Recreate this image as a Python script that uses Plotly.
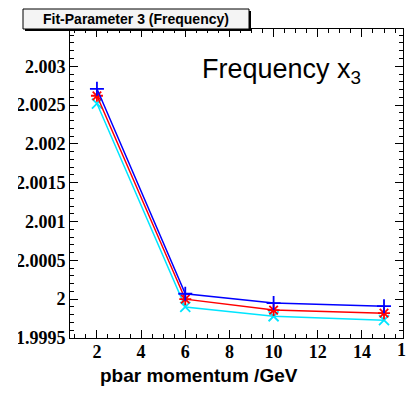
import plotly.graph_objects as go

# Fitted frequency parameter vs. antiproton beam momentum
momentum = [2, 6, 10, 15]
freq_blue = [2.00271, 2.00007, 1.99995, 1.99991]
freq_red = [2.00262, 2.00000, 1.99986, 1.99982]
freq_cyan = [2.00252, 1.99990, 1.99978, 1.99973]

y_tickvals = [1.9995, 2.0, 2.0005, 2.001, 2.0015, 2.002, 2.0025, 2.003, 2.0035]
y_ticktext = ["1.9995", "2", "2.0005", "2.001", "2.0015", "2.002", "2.0025", "2.003", "2.0035"]
x_tickvals = [2, 4, 6, 8, 10, 12, 14]
x_ticktext = ["2", "4", "6", "8", "10", "12", "14"]

W, H = 406, 395
L, R, T, B = 70, 403, 29, 338  # frame in pixels

def px(x):
    return (x - L) / (R - L)

def py(y):
    return (B - y) / (B - T)

serif_bold = dict(family="Times New Roman", size=18, color="black", weight="bold")

fig = go.Figure()
series = [
    (freq_cyan, "#00e5ff", "x-thin-open"),
    (freq_red, "#ff0000", "asterisk-open"),
    (freq_blue, "#0000ff", "cross-thin-open"),
]
for vals, col, sym in series:
    fig.add_trace(go.Scatter(
        x=momentum, y=vals, mode="lines+markers",
        line=dict(color=col, width=1.5),
        marker=dict(symbol=sym, size=10, line=dict(color=col, width=1.8)),
        showlegend=False, cliponaxis=False,
    ))

axis_common = dict(
    showgrid=False, zeroline=False, showline=True, linecolor="black", linewidth=1,
    ticks="inside", ticklen=8, tickcolor="black", mirror="allticks",
    tickfont=serif_bold,
)
fig.update_xaxes(
    range=[0.78, 15.86], tickvals=x_tickvals, ticktext=x_ticktext,
    minor=dict(dtick=0.5, tick0=0, ticks="inside", ticklen=4, tickcolor="black"),
    ticklabelstandoff=-3,
    **axis_common,
)
fig.update_yaxes(
    range=[1.9995, 2.00348], tickvals=y_tickvals, ticktext=y_ticktext,
    minor=dict(dtick=0.0001, tick0=1.9995, ticks="inside", ticklen=4, tickcolor="black"),
    ticklabelstandoff=0,
    **axis_common,
)

shapes = [
    # left clip of the pad
    dict(type="rect", xref="paper", yref="paper", x0=px(-5), x1=px(18), y0=py(400), y1=py(-5),
         fillcolor="white", line=dict(width=0), layer="above"),
    # title box shadow and box
    dict(type="rect", xref="paper", yref="paper", x0=px(25), x1=px(251), y0=py(31), y1=py(11),
         fillcolor="black", line=dict(width=0), layer="above"),
    dict(type="rect", xref="paper", yref="paper", x0=px(23), x1=px(249), y0=py(29), y1=py(9),
         fillcolor="#f4f4f4", line=dict(color="black", width=1), layer="above"),
]

x16_px = L + (16 - 0.78) / (15.86 - 0.78) * (R - L)

annotations = [
    dict(text="Fit-Parameter 3 (Frequency)", xref="paper", yref="paper",
         x=px(136), y=py(19), xanchor="center", yanchor="middle", showarrow=False,
         font=dict(family="Liberation Sans", size=14, color="black", weight="bold")),
    dict(text="Frequency x<sub>3</sub>", xref="paper", yref="paper",
         x=px(200), y=py(71), xanchor="left", yanchor="middle", showarrow=False,
         font=dict(family="Liberation Sans", size=27, color="black")),
    dict(text="pbar momentum /GeV", xref="paper", yref="paper",
         x=px(199), y=py(375), xanchor="center", yanchor="middle", showarrow=False,
         font=dict(family="Liberation Sans", size=19, color="black", weight="bold")),
    dict(text="16", xref="paper", yref="paper", x=px(x16_px), y=py(350),
         xanchor="center", yanchor="middle", showarrow=False, font=serif_bold),
]

fig.update_layout(
    width=W, height=H,
    margin=dict(l=L, r=W - R, t=T, b=H - B, pad=0),
    paper_bgcolor="white", plot_bgcolor="white",
    shapes=shapes, annotations=annotations,
)

fig.write_html("out.html")
